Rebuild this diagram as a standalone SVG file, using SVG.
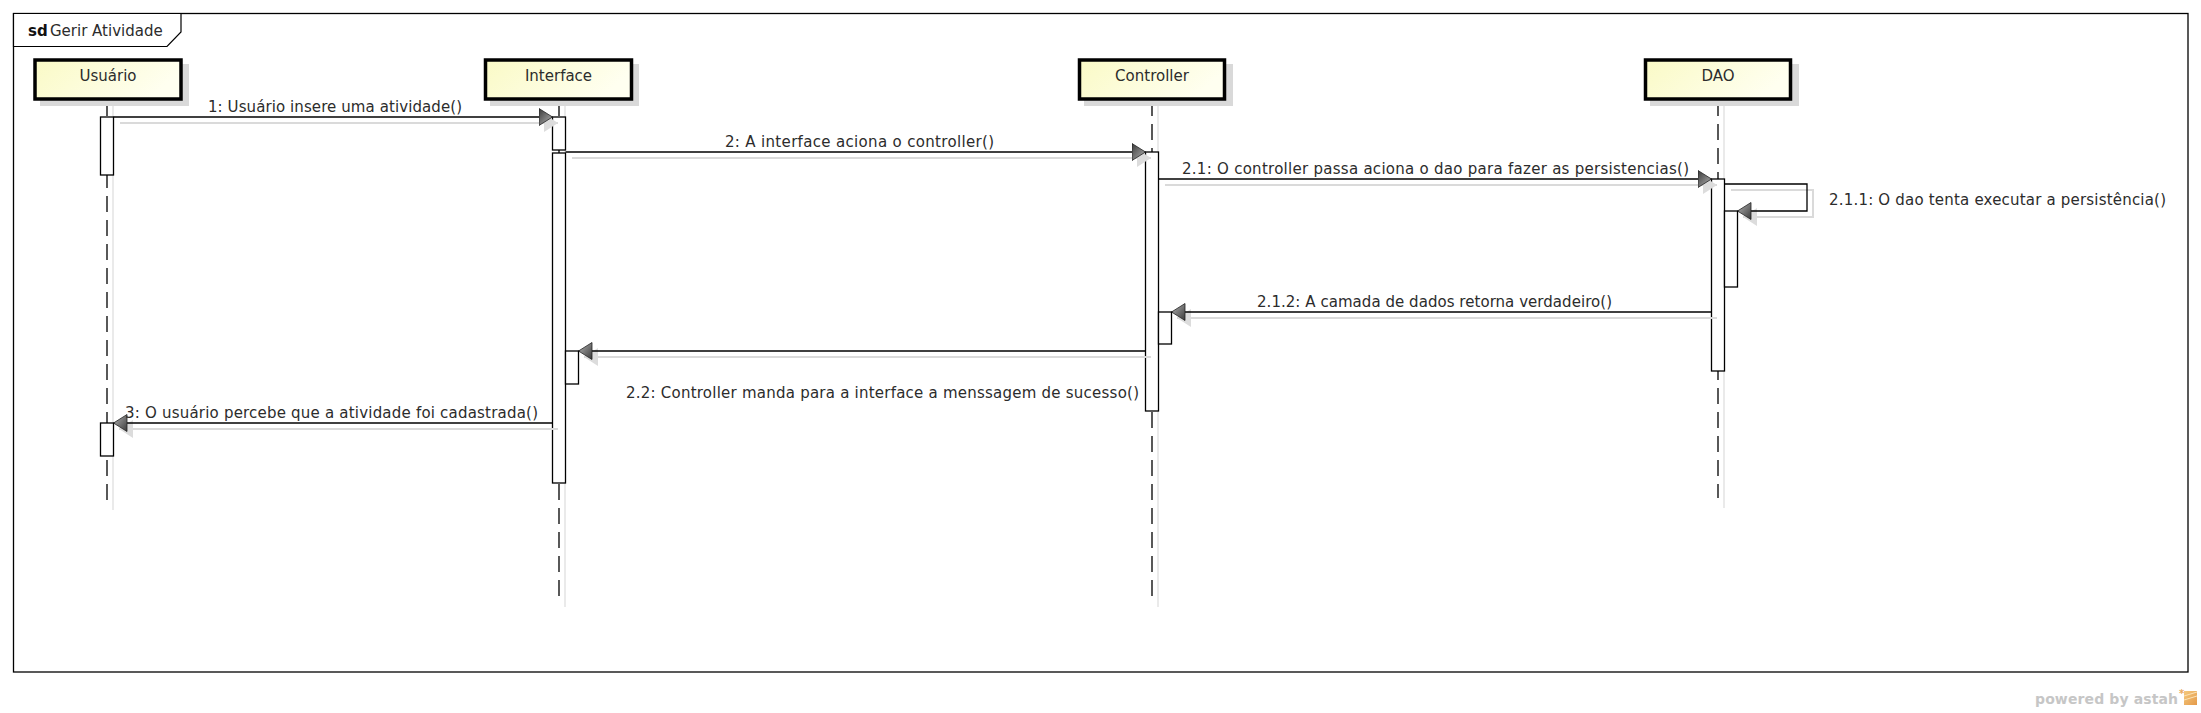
<svg xmlns="http://www.w3.org/2000/svg" width="2201" height="713" viewBox="0 0 2201 713">
<style>
  text { font-family: "DejaVu Sans", "Liberation Sans", sans-serif; font-size: 15px; fill: #2c2c2c; }
  .bold { font-weight: bold; fill: #111; }
  .frame { fill: none; stroke: #000; stroke-width: 1.3; }
  .tab { fill: #fff; stroke: #000; stroke-width: 1.2; }
  .box { fill: url(#boxg); stroke: #000; stroke-width: 3.5; }
  .boxsh { fill: #d9d9d9; }
  .life { stroke: #000; stroke-width: 1.3; stroke-dasharray: 16 8; fill: none; }
  .lifesh { stroke: #e3e3e3; stroke-width: 1.5; fill: none; }
  .act { fill: #fff; stroke: #000; stroke-width: 1.3; }
  .msg { fill: none; stroke: #000; stroke-width: 1.3; marker-end: url(#arr); }
  .msgsh { fill: none; stroke: #dadada; stroke-width: 2; marker-end: url(#arrsh); }
  .lbl { text-anchor: middle; }
  .astah { font-family: "DejaVu Sans", sans-serif; font-weight: bold; font-size: 14px; fill: #c6c6c6; }
</style>
<defs>
  <linearGradient id="boxg" x1="0" y1="0" x2="1" y2="0.3">
    <stop offset="0" stop-color="#fafac6"/>
    <stop offset="1" stop-color="#fffff0"/>
  </linearGradient>
  <linearGradient id="arrg" x1="0" y1="0" x2="1" y2="1">
    <stop offset="0" stop-color="#3a3a3a"/>
    <stop offset="1" stop-color="#b5b5b5"/>
  </linearGradient>
  <linearGradient id="logog" x1="0" y1="0" x2="1" y2="1">
    <stop offset="0" stop-color="#f5c97e"/>
    <stop offset="1" stop-color="#e49a4a"/>
  </linearGradient>
  <marker id="arr" viewBox="0 0 14 18" refX="14" refY="9" markerWidth="14" markerHeight="18" markerUnits="userSpaceOnUse" orient="auto">
    <path d="M0.5,0.5 L14,9 L0.5,17.5 Z" fill="url(#arrg)" stroke="#222" stroke-width="0.8"/>
  </marker>
  <marker id="arrsh" viewBox="0 0 14 18" refX="14" refY="9" markerWidth="14" markerHeight="18" markerUnits="userSpaceOnUse" orient="auto">
    <path d="M0,0 L14,9 L0,18 Z" fill="#dcdcdc"/>
  </marker>
</defs>
<rect x="0" y="0" width="2201" height="713" fill="#fff"/>

<g id="frame">
  <rect class="frame" x="13.5" y="13.5" width="2174.5" height="658.5"/>
  <path class="tab" d="M13.5,13.5 H181 V32 L167,46.5 H13.5 Z"/>
  <text x="28" y="36" class="bold">sd</text>
  <text x="50" y="36">Gerir Atividade</text>
</g>

<g id="lifelines">
  <line class="lifesh" x1="113" y1="106" x2="113" y2="510"/>
  <line class="lifesh" x1="565" y1="106" x2="565" y2="607"/>
  <line class="lifesh" x1="1158" y1="106" x2="1158" y2="607"/>
  <line class="lifesh" x1="1724" y1="106" x2="1724" y2="508"/>
  <line class="life" x1="107" y1="100" x2="107" y2="500"/>
  <line class="life" x1="559" y1="100" x2="559" y2="596"/>
  <line class="life" x1="1152" y1="100" x2="1152" y2="596"/>
  <line class="life" x1="1718" y1="100" x2="1718" y2="498"/>
</g>

<g id="usuario">
  <rect class="boxsh" x="40" y="64" width="149" height="42"/>
  <rect class="box" x="35" y="60" width="146" height="39"/>
  <text class="lbl" x="108" y="81">Usuário</text>
</g>
<g id="interface">
  <rect class="boxsh" x="490" y="64" width="149" height="42"/>
  <rect class="box" x="485.5" y="60" width="146" height="39"/>
  <text class="lbl" x="558.5" y="81">Interface</text>
</g>
<g id="controller">
  <rect class="boxsh" x="1084" y="64" width="149" height="42"/>
  <rect class="box" x="1079.5" y="60" width="145" height="39"/>
  <text class="lbl" x="1152" y="81">Controller</text>
</g>
<g id="dao">
  <rect class="boxsh" x="1650" y="64" width="149" height="42"/>
  <rect class="box" x="1645.5" y="60" width="145" height="39"/>
  <text class="lbl" x="1718" y="81">DAO</text>
</g>

<g id="activations">
  <rect class="act" x="100.5" y="117" width="13" height="58"/>
  <rect class="act" x="100.5" y="423" width="13" height="33"/>
  <rect class="act" x="552.5" y="117" width="13" height="33"/>
  <rect class="act" x="552.5" y="153" width="13" height="330"/>
  <rect class="act" x="565.5" y="351" width="13" height="33"/>
  <rect class="act" x="1145.5" y="152" width="13" height="259"/>
  <rect class="act" x="1158.5" y="312" width="13" height="32"/>
  <rect class="act" x="1711.5" y="179" width="13" height="192"/>
  <rect class="act" x="1724.5" y="211" width="13" height="76"/>
</g>

<g id="connectors">
  <line class="msgsh" x1="120" y1="123" x2="558" y2="123"/>
  <line class="msg" x1="113.5" y1="117" x2="552.5" y2="117"/>
  <text x="208" y="112" textLength="254">1: Usuário insere uma atividade()</text>

  <line class="msgsh" x1="572" y1="158" x2="1151" y2="158"/>
  <line class="msg" x1="565.5" y1="152" x2="1145.5" y2="152"/>
  <text x="725" y="147" textLength="269">2: A interface aciona o controller()</text>

  <line class="msgsh" x1="1165" y1="185" x2="1717" y2="185"/>
  <line class="msg" x1="1158.5" y1="179" x2="1711.5" y2="179"/>
  <text x="1182" y="174" textLength="507">2.1: O controller passa aciona o dao para fazer as persistencias()</text>

  <polyline class="msgsh" points="1731,190 1813,190 1813,217 1743,217"/>
  <polyline class="msg" points="1724.5,184 1807,184 1807,211 1737.5,211"/>
  <text x="1829" y="205" textLength="337">2.1.1: O dao tenta executar a persistência()</text>

  <line class="msgsh" x1="1717" y1="318" x2="1177" y2="318"/>
  <line class="msg" x1="1711.5" y1="312" x2="1171.5" y2="312"/>
  <text x="1257" y="307" textLength="355">2.1.2: A camada de dados retorna verdadeiro()</text>

  <line class="msgsh" x1="1151" y1="357" x2="584" y2="357"/>
  <line class="msg" x1="1145.5" y1="351" x2="578.5" y2="351"/>
  <text x="626" y="398" textLength="513">2.2: Controller manda para a interface a menssagem de sucesso()</text>

  <line class="msgsh" x1="558" y1="429" x2="119" y2="429"/>
  <line class="msg" x1="552.5" y1="423" x2="113.5" y2="423"/>
  <text x="125" y="418" textLength="413">3: O usuário percebe que a atividade foi cadastrada()</text>
</g>

<g id="watermark">
  <text class="astah" x="2035" y="704" textLength="143">powered by astah</text>
  <text x="2179" y="697" style="font-size:10px; fill:#e8a860; font-weight:bold;">*</text>
  <rect x="2184" y="691" width="13" height="14" fill="url(#logog)"/>
  <path d="M2184,696 L2197,692 M2184,700 L2197,696" stroke="#fbe3b8" stroke-width="1"/>
</g>
</svg>
